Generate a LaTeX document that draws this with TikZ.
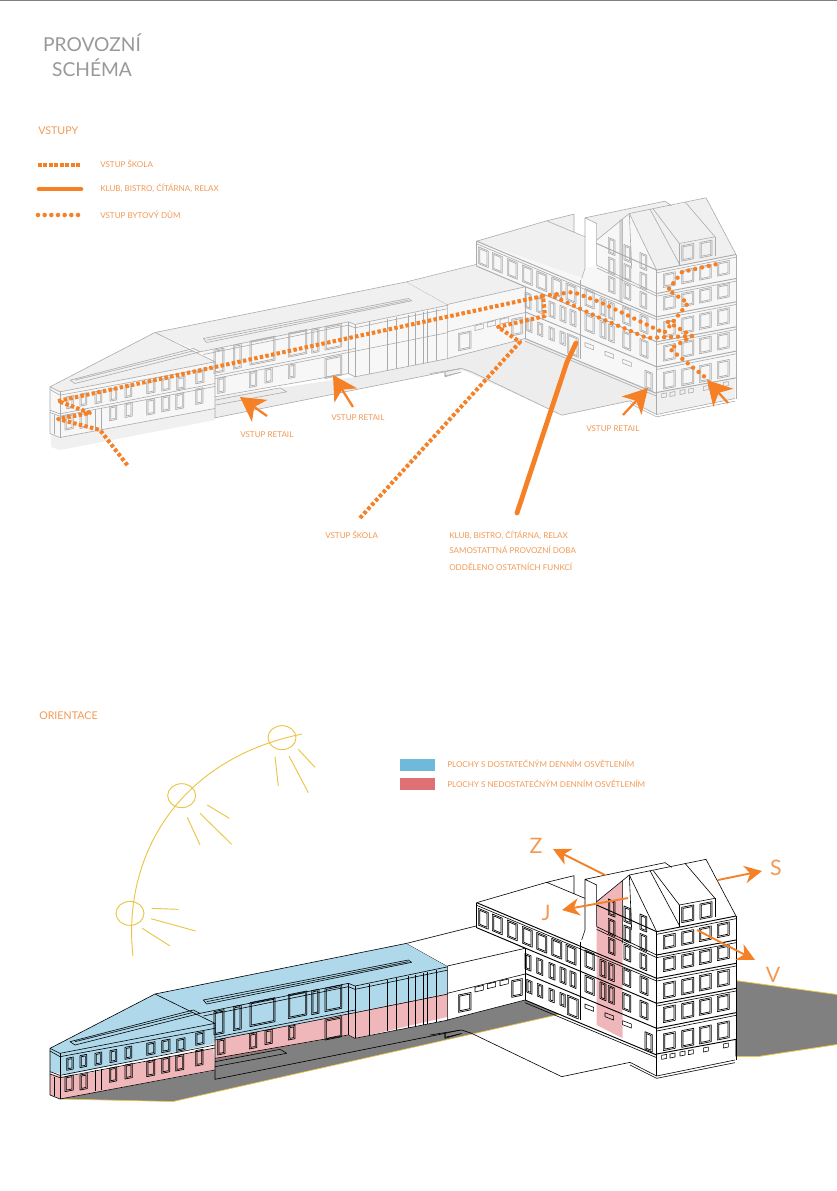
\documentclass[tikz,border=0pt]{standalone}
\usepackage{fontspec}
\setmainfont{Lato}
\usetikzlibrary{arrows.meta}
\definecolor{org}{HTML}{F58025}
\definecolor{txt}{HTML}{F39A55}
\definecolor{sunc}{HTML}{EBC545}
\definecolor{blu}{HTML}{6FBADB}
\definecolor{pnk}{HTML}{E07075}
\colorlet{ln}{black}
\colorlet{fr}{white}
\colorlet{fw}{white}
\newcommand\overlayL{}
\newcommand\overlayR{}
\newcommand\Q[5]{%
  \draw[win] (#2,#3) -- ++(#4,{#4*#1}) -- ++(0,#5) -- ++(-#4,{-#4*#1}) -- cycle;
  \draw[wini] ({#2+4},{#3+4+4*#1}) -- ++({#4-8},{(#4-8)*#1}) -- ++(0,{#5-8}) -- ++({8-#4},{(8-#4)*#1}) -- cycle;}
\newcommand\bldg{%
 % ---- left block (coordinates of crop A)
 \begin{scope}[shift={(30,258.5)},x=.25pt,y=-.25pt]
  \fill[fw] (60,385)--(90,400)--(555,310)--(555,450)--(90,537)--(60,525)--cycle;
  \fill[fr] (60,385)--(375,222)--(555,310)--(90,400)--cycle;
  \fill[fr] (375,222)--(1130,70)--(1255,140)--(975,198)--(955,190)--(510,280)--cycle;
  \fill[fw] (510,280)--(955,190)--(975,198)--(1255,140)--(1255,300)--(975,355)--(955,345)--(555,415)--(555,310)--cycle;
  \overlayL
  \draw[bl] (60,385)--(375,222)--(1130,70)--(1255,140)--(1255,300)--(975,355)--(955,345)--(555,415);
  \draw[bl] (60,385)--(90,400)--(555,310)--(375,222);
  \draw[bl] (60,385)--(60,525)--(90,537)--(555,450)--(555,310);
  \draw[bl] (90,400)--(90,537);
  \draw[bl] (60,393)--(90,410)--(555,325);
  \draw[bl] (60,455)--(90,466)--(555,375);
  \draw[bl] (60,462)--(90,473)--(555,384);
  \draw[bl] (510,280)--(955,190)--(975,198)--(1255,140);
  \draw[bl] (520,288)--(955,200)--(975,208)--(1255,150);
  \draw[bl] (555,360)--(975,278)--(1255,222);
  \draw[bl] (555,352)--(975,270);
  \draw[bl] (975,198)--(975,355) (955,190)--(955,345);
  \draw[bl] (120,365)--(490,270)--(510,280)--(135,375)--cycle (135,365)--(490,277);
  \draw[bl] (520,240)--(1135,120)--(1145,127)--(530,252)--cycle (530,245)--(1135,125);
  \draw[bl] (555,425)--(750,388)--(770,400)--(555,440);
  \draw[bl] (555,450)--(555,478)--(1245,340) (1245,340)--(1245,352)--(1290,342) (1245,340)--(1290,330);
  \foreach \x/\y/\w in {110/415/20,150/407/20,195/400/20,240/392/20,285/382/20,350/370/25,395/362/25,440/358/25,497/340/25}
    {\Q{-.2}{\x}{\y}{\w}{36}}
  \foreach \x/\y/\w/\h in {105/470/25/45,150/465/22/45,238/445/22/42,285/435/22/42,350/425/24/45,395/415/24/45,437/408/24/45,497/392/22/46}
    {\Q{-.2}{\x}{\y}{\w}{\h}}
  \draw[bl] (72,470)--(72,527) (195,450)--(195,513) (215,447)--(215,510);
  \foreach \x/\y/\w/\h in {552/275/30/70,610/260/24/72,660/248/75/72,775/224/55/72,845/212/22/72,885/205/50/70,563/360/22/45,658/342/22/45,705/332/22/42,775/320/20/40,885/300/50/60}
    {\Q{-.2}{\x}{\y}{\w}{\h}}
  \foreach \x/\t/\b in {1018/191/345,1072/180/334,1100/175/330,1135/168/323,1155/164/320,1180/159/315,1192/157/312,1218/151/307}
    {\draw[bl] (\x,\t)--(\x,\b);}
 \end{scope}
 % ---- middle and tower (coordinates of crop B)
 \begin{scope}[shift={(430,168.5)},x=.25pt,y=-.25pt]
  % middle block
  \fill[fr] (-70,340)--(138,288)--(285,355)--(52,408)--cycle;
  \fill[fw] (52,408)--(285,355)--(285,510)--(52,570)--cycle;
  \draw[bl] (-70,340)--(138,288)--(285,355) (52,408)--(285,355);
  \draw[bl] (52,408)--(52,570)--(285,510) (52,490)--(285,432);
  \foreach \x/\y in {135/472,172/462,210/453}
   {\draw[bl] (\x,\y)--++(25,-6)--++(0,14)--++(-25,6)--cycle;}
  \Q{-.2}{85}{495}{38}{52}
  \Q{-.2}{245}{452}{32}{50}
  % wing roof
  \fill[fr] (140,218)--(350,157)--(432,137)--(432,190)--(465,210)--(465,300)--(455,328)--cycle;
  % tower
  \fill[fw] (140,218)--(455,330)--(500,225)--(680,305)--(680,672)--(285,510)--(285,355)--(140,293)--cycle;
  \fill[fr] (465,148)--(705,98)--(725,112)--(828,88)--(918,258)--(680,305)--(598,135)--(500,215)--(500,165)--cycle;
  \fill[white] (465,148)--(500,165)--(500,290)--(465,300)--cycle;
  \fill[fw] (500,215)--(598,135)--(680,305)--(680,380)--(500,295)--cycle;
  \fill[fw] (680,305)--(918,258)--(918,628)--(680,672)--cycle;
  \fill[fr] (600,697)--(680,672)--(915,628)--(915,690)--(680,738)--cycle;
  \overlayR
  % roofs
  \draw[bl] (140,218)--(350,157)--(432,137)--(432,190) (350,157)--(465,205);
  \draw[bl] (465,205)--(465,148)--(705,98)--(725,112) (465,148)--(500,165)--(500,290);
  \draw[bl] (465,300)--(455,330) (465,205)--(465,300);
  \draw[bl] (500,215)--(598,135)--(680,305);
  \draw[bl] (598,135)--(605,300) (578,153)--(578,340);
  \draw[bl] (598,135)--(828,88)--(918,258);
  \draw[bl] (660,122)--(750,290);
  \draw[bl] (670,122)--(748,225)--(855,205)--(765,100);
  \draw[bl] (748,225)--(748,290) (855,205)--(855,262);
  \Q{-.2}{755}{232}{36}{46}
  \Q{-.2}{810}{222}{36}{46}
  % left facade
  \draw[blt] (140,218)--(680,445);
  \draw[bl] (140,226)--(680,453);
  \draw[blt] (140,293)--(680,520);
  \draw[bl] (140,218)--(140,293);
  \draw[blt] (285,430)--(680,595);
  \draw[blt] (285,510)--(680,675);
  \draw[bl] (285,518)--(680,683);
  \draw[blt] (500,225)--(680,305);
  \draw[bl] (500,290)--(680,375) (500,298)--(680,383);
  \draw[bl] (285,355)--(285,510) (450,335)--(450,570);
  \foreach \x/\y in {145/235,187/252,232/270,277/289,320/307,365/325,408/343}
    {\Q{.42}{\x}{\y}{30}{50}}
  \Q{.42}{465}{360}{28}{50}
  \Q{.42}{465}{435}{28}{50}
  \foreach \x/\y in {535/207,535/265,535/322,582/228,582/285,582/342,630/252,630/310,630/368}
    {\Q{.42}{\x}{\y}{20}{46}}
  \foreach \x/\y in {510/387,535/398,510/455,535/466}
    {\Q{.42}{\x}{\y}{18}{50}}
  \foreach \x/\y in {578/413,630/437,578/487,630/510}
    {\Q{.42}{\x}{\y}{24}{50}}
  \foreach \x/\y in {285/370,320/383,357/397,390/410,420/422}
    {\Q{.42}{\x}{\y}{18}{46}}
  \foreach \x/\y in {290/448,322/460,357/474,390/487}
    {\Q{.42}{\x}{\y}{16}{38}}
  \Q{.42}{412}{495}{33}{58}
  \foreach \x/\y in {465/522,525/548,578/572}
    {\draw[bl] (\x,\y)--++(26,10)--++(0,12)--++(-26,-10)--cycle;}
  \Q{.42}{645}{605}{22}{52}
  % right facade
  \draw[blt] (680,305)--(918,258) (680,375)--(918,330) (680,445)--(918,400) (680,520)--(918,475) (680,595)--(918,548) (680,672)--(918,628);
  \draw[bl] (680,313)--(918,266) (680,383)--(918,338) (680,453)--(918,408) (680,528)--(918,483) (680,603)--(918,556);
  \draw[blt] (680,305)--(680,738);
  \draw[bl] (918,258)--(918,690);
  \foreach \x/\y in {700/317,755/306,808/295,862/283}{\Q{-.2}{\x}{\y}{36}{40}}
  \foreach \x/\y in {700/385,755/375,808/364,862/352}{\Q{-.2}{\x}{\y}{36}{40}}
  \foreach \x/\y in {700/460,755/449,808/437,862/425}{\Q{-.2}{\x}{\y}{36}{46}}
  \foreach \x/\y in {700/532,755/521,808/510,862/499}{\Q{-.2}{\x}{\y}{36}{46}}
  \foreach \x/\y in {700/612,755/602,808/592,862/580}{\Q{-.2}{\x}{\y}{36}{50}}
  \foreach \x/\y in {695/676,720/672,750/666,775/662,820/654,880/642}
    {\draw[bl] (\x,\y)--++(15,-3)--++(0,12)--++(-15,3)--cycle;}
  % plaza
  \draw[bl] (0,615)--(95,600)--(125,610)--(395,740)--(600,697)--(680,738)--(915,690);
  \draw[bl] (600,705)--(680,745)--(915,698);
  \draw[bl] (45,612)--(45,625)--(95,610);
 \end{scope}
}
\tikzset{
 bl/.style={draw=ln,line width=.45pt,line join=round},
 blt/.style={draw=ln,line width=.7pt,line join=round},
 win/.style={draw=ln,line width=.5pt,line join=round},
 wini/.style={draw=ln,line width=.5pt,line join=round},
 lab/.style={text=txt,anchor=west,inner sep=0pt,font=\fontsize{6.05}{7}\selectfont},
 sq/.style={org,line width=3pt,dash pattern=on 2.6pt off 1.7pt},
 dot/.style={org,line width=3.3pt,line cap=round,dash pattern=on 0pt off 5.2pt,line join=round},
 bigarrow/.style={org,line width=1.7pt,-{Stealth[length=18pt,width=20pt,inset=5pt]}},
 dirarrow/.style={org,line width=1.4pt,-{Stealth[length=13pt,width=13pt,inset=4pt]}},
 sun/.style={sunc,line width=.7pt},
 dirl/.style={text=txt,inner sep=0pt,font=\fontsize{16}{18}\selectfont},
}
\begin{document}
\begin{tikzpicture}[x=.75pt,y=-.75pt]
\useasboundingbox (0,0) rectangle (837,1191);
\fill[white] (0,0) rectangle (837,1191);
\draw[gray,line width=.6pt] (0,.5)--(837,.5);
% titles
\node[text=black!40,inner sep=0pt,font=\fontsize{14.4}{18}\selectfont] (title1) at (92,43) {PROVOZNÍ};
\node[text=black!40,inner sep=0pt,font=\fontsize{14.4}{18}\selectfont] (title2) at (92,68) {SCHÉMA};
\node[lab,font=\fontsize{8}{9}\selectfont] (vstupy) at (38,131) {VSTUPY};
\draw[org,line width=3.4pt,dash pattern=on 2.9pt off 1.2pt] (38,165)--(80,165);
\draw[org,line width=3.6pt,line cap=round] (39,189)--(81,189);
\draw[org,line width=3.4pt,line cap=round,dash pattern=on 0pt off 5pt] (38,215)--(83,215);
\node[lab] (l1) at (100,164) {VSTUP ŠKOLA};
\node[lab] (l2) at (100,188.5) {KLUB, BISTRO, ČÍTÁRNA, RELAX};
\node[lab] (l3) at (100,214.5) {VSTUP BYTOVÝ DŮM};
% ==== top building
\begin{scope}
 \colorlet{ln}{black!33}
 \colorlet{fr}{black!6}
 \colorlet{fw}{black!3}
 \renewcommand\overlayR{\fill[black!18] (568,155)--(578,150)--(578,405)--(568,400)--cycle;}
 \fill[black!7] (215,397)--(215,418)--(445,372)--(445,377)--(462,370)--(471,373.5)--(562,415)--(630,401)--(657,414)--(735,398)--(735,378)--(657,392)--(525,338)--(448,357)--(355,377)--cycle;
 \fill[black!6] (51,430)--(51,447)--(60,450)--(215,420)--(215,397)--cycle;
 \bldg
\end{scope}
% routes
\draw[sq,line join=round] (360,518)--(520,342)--(498,327)--(545,316)--(543,296)--(58,401)--(90,413)--(58,419)--(100,430)--(128,466);
\draw[org,line width=3.6pt,line cap=round] (517,513)--(567,362)--(576,343);
\draw[dot] (555,297)--(600,318)--(647,338)--(692,336)--(670,349)--(706,378);
\draw[dot] (543,296)--(573,292)--(600,302)--(664,333)--(688,303)--(668,290)--(682,272)--(717,264);
\draw[dot] (668,322)--(692,336);
% arrows
\coordinate (r1a) at (267,416); \coordinate (r1b) at (240,397);
\coordinate (r2a) at (353,407); \coordinate (r2b) at (333,375);
\coordinate (r3a) at (623,415); \coordinate (r3b) at (648,388);
\coordinate (r4a) at (728,403); \coordinate (r4b) at (707,380);
\draw[bigarrow] (r1a)--(r1b);
\draw[bigarrow] (r2a)--(r2b);
\draw[bigarrow] (r3a)--(r3b);
\draw[bigarrow] (r4a)--(r4b);
\node[lab] (ret1) at (240,435) {VSTUP RETAIL};
\node[lab] (ret2) at (331,418) {VSTUP RETAIL};
\node[lab] (ret3) at (586,429) {VSTUP RETAIL};
\node[lab] (sk) at (325,535) {VSTUP ŠKOLA};
\node[lab] (k1) at (449,535) {KLUB, BISTRO, ČÍTÁRNA, RELAX};
\node[lab] (k2) at (449,549.5) {SAMOSTATTNÁ PROVOZNÍ DOBA};
\node[lab] (k3) at (449,566.5) {ODDĚLENO OSTATNÍCH FUNKCÍ};
% ==== orientation
\node[lab,font=\fontsize{8}{9}\selectfont] (ori) at (39,716) {ORIENTACE};
\fill[blu] (400,759) rectangle (435,771);
\fill[pnk] (400,778) rectangle (435,790);
\node[lab] (b1) at (447,763.5) {PLOCHY S DOSTATEČNÝM DENNÍM OSVĚTLENÍM};
\node[lab] (b2) at (447,783.5) {PLOCHY S NEDOSTATEČNÝM DENNÍM OSVĚTLENÍM};
% sun
\draw[sun] (133,956) .. controls (122,860) and (175,760) .. (302,734);
\begin{scope}[shift={(90,710)},x=.25pt,y=-.25pt]
 \draw[sun] (120,610) ellipse [x radius=10.5pt,y radius=9pt];
 \draw[sun] (275,257) ellipse [x radius=10.5pt,y radius=9pt];
 \draw[sun] (576,83) ellipse [x radius=10.5pt,y radius=9pt];
 \draw[sun] (185,595)--(265,598) (183,626)--(317,663) (157,655)--(240,708)
            (292,322)--(330,405) (330,310)--(425,403) (352,285)--(418,325)
            (555,140)--(565,228) (597,138)--(655,248) (625,118)--(675,172);
\end{scope}
% bottom building
\begin{scope}[shift={(0,661.5)}]
 \renewcommand\overlayL{%
  \fill[blu,opacity=.55] (60,385)--(375,222)--(1130,70)--(1255,140)--(1255,220)--(975,278)--(555,360)--(550,372)--(110,465)--(60,455)--cycle;
  \fill[pnk,opacity=.5] (555,360)--(975,278)--(1255,220)--(1255,290)--(975,355)--(955,345)--(555,420)--cycle;
  \fill[pnk,opacity=.5] (60,462)--(110,472)--(550,385)--(555,450)--(90,537)--(60,525)--cycle;
 }
 \renewcommand\overlayR{%
  \fill[pnk,opacity=.5] (500,215)--(578,153)--(578,625)--(500,585)--cycle;
 }
 \fill[black!50] (60,437.5) -- (173,440) -- (563,352) -- (525,338.5) -- (447,358.5) -- (355,377) -- (348,374) -- (215,397) -- (215,409) -- cycle;
 \draw[sunc,line width=.5pt] (60,437.5) -- (173,440) -- (563,352);
 \fill[black!50] (735,319) -- (837,333) -- (837,383) -- (758,395) -- (657,395) -- (657,392) -- (735,378) -- cycle;
 \draw[sunc,line width=.6pt] (735,319) -- (837,333) (837,383) -- (758,395) -- (657,395);
 \draw[sunc,line width=.5pt] (735,319)--(735,378)--(657,392) (525,338.5)--(563,352);
 \colorlet{ln}{black}
 \colorlet{fr}{white}
 \colorlet{fw}{white}
 \bldg
\end{scope}
\coordinate (za) at (605,875); \coordinate (zb) at (553,849);
\coordinate (sa) at (718,880); \coordinate (sb) at (762,871);
\coordinate (ja) at (628,898); \coordinate (jb) at (562,910);
\coordinate (va) at (697,930); \coordinate (vb) at (755,960);
\draw[dirarrow] (za)--(zb);
\draw[dirarrow] (sa)--(sb);
\draw[dirarrow] (ja)--(jb);
\draw[dirarrow] (va)--(vb);
\node[dirl] (dz) at (536,846) {Z};
\node[dirl] (ds) at (776,868) {S};
\node[dirl] (dj) at (546,913) {J};
\node[dirl] (dv) at (773,975) {V};
\end{tikzpicture}
\end{document}
